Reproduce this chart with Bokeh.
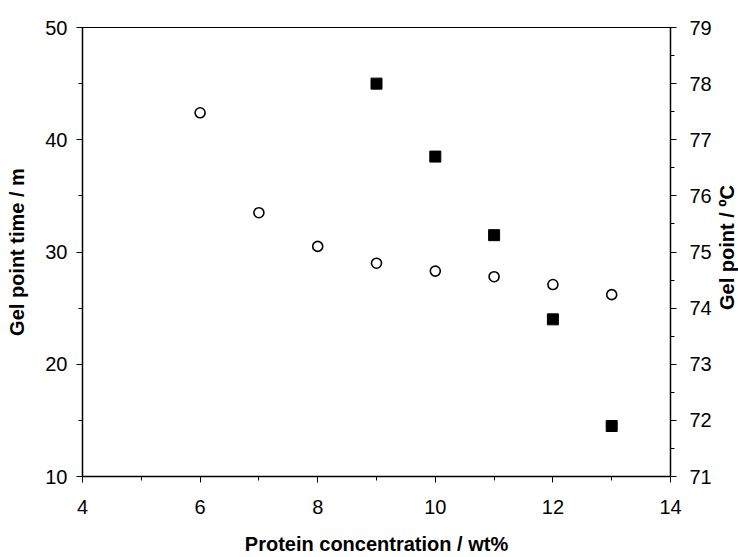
import math

from bokeh.plotting import figure
from bokeh.layouts import row
from bokeh.models import Range1d, LinearAxis, SingleIntervalTicker, Label
from bokeh.embed import file_html
from bokeh.resources import INLINE

# Protein concentration (wt%) and the measured gel point properties
conc_time = [6, 7, 8, 9, 10, 11, 12, 13]
gel_time_min = [42.4, 33.5, 30.5, 29.0, 28.3, 27.8, 27.1, 26.2]

conc_temp = [9, 10, 11, 12, 13]
gel_temp_c = [78.0, 76.7, 75.3, 73.8, 71.9]

x_label = "Protein concentration / wt%"
left_label = "Gel point time / m"
right_label = "Gel point / \u00baC"

FONT = "Liberation Sans"
TOP, BOTTOM = 27, 81
STRIP_W = 24

fig = figure(width=738 - STRIP_W, height=557, output_backend="svg",
             toolbar_location=None,
             x_range=Range1d(4, 14), y_range=Range1d(10, 50),
             min_border_left=82, min_border_right=44,
             min_border_top=TOP, min_border_bottom=BOTTOM,
             x_axis_label=x_label, y_axis_label=left_label)
fig.extra_y_ranges = {"temp": Range1d(71, 79)}
fig.grid.visible = False
fig.outline_line_color = "black"
fig.outline_line_width = 1
fig.background_fill_color = "white"
fig.border_fill_color = "white"

right_axis = LinearAxis(y_range_name="temp")
fig.add_layout(right_axis, "right")

fig.xaxis.ticker = SingleIntervalTicker(interval=2, num_minor_ticks=2)
fig.yaxis[0].ticker = SingleIntervalTicker(interval=10, num_minor_ticks=2)
right_axis.ticker = SingleIntervalTicker(interval=1, num_minor_ticks=2)

for ax in fig.xaxis + fig.yaxis:
    ax.axis_line_color = "black"
    ax.axis_line_width = 1.5
    ax.major_tick_line_color = "black"
    ax.minor_tick_line_color = "black"
    ax.major_tick_out = 6
    ax.major_tick_in = 0
    ax.minor_tick_out = 4
    ax.minor_tick_in = 0
    ax.major_label_text_font = FONT
    ax.major_label_text_font_size = "20px"
    ax.major_label_text_color = "black"
    ax.axis_label_text_font = FONT
    ax.axis_label_text_font_size = "20px"
    ax.axis_label_text_font_style = "bold"
    ax.axis_label_text_color = "black"

fig.xaxis.major_label_standoff = 17
fig.xaxis.axis_label_standoff = 16
fig.yaxis[0].major_label_standoff = 9
fig.yaxis[0].axis_label_standoff = 14
right_axis.major_label_standoff = 13

# Gel point time against the left axis
fig.scatter(conc_time, gel_time_min, marker="circle", size=10,
            fill_color="white", line_color="black", line_width=1.6)

# Gel point temperature against the right axis
fig.scatter(conc_temp, gel_temp_c, marker="square", size=11,
            fill_color="black", line_color="black", y_range_name="temp")

# Narrow strip holding the right-hand title, reading upwards like the left one
strip = figure(width=STRIP_W, height=557, output_backend="svg",
               toolbar_location=None, x_range=Range1d(0, STRIP_W),
               y_range=Range1d(0, 1), x_axis_type=None, y_axis_type=None,
               min_border_left=0, min_border_right=0,
               min_border_top=TOP, min_border_bottom=BOTTOM)
strip.grid.visible = False
strip.outline_line_color = None
strip.border_fill_color = "white"
strip.background_fill_color = "white"
strip.add_layout(Label(x=12, y=0.51, angle=math.pi / 2, text=right_label,
                       text_font=FONT, text_font_size="20px",
                       text_font_style="bold", text_color="black",
                       text_align="center", text_baseline="middle"))

p = row(fig, strip)

open("out.html", "w").write(file_html(p, INLINE))
